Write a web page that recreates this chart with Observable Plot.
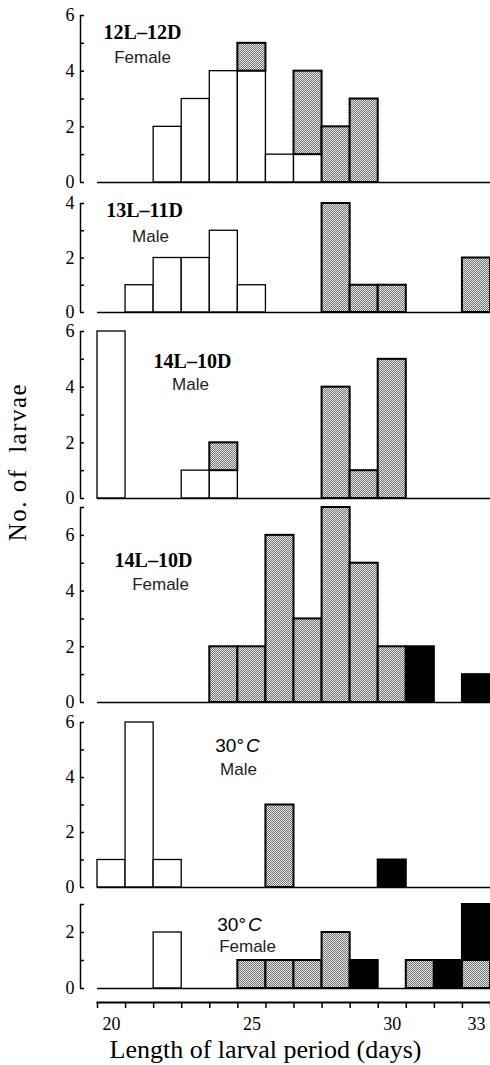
<!DOCTYPE html>
<html>
<head>
<meta charset="utf-8">
<script src="https://cdn.jsdelivr.net/npm/d3@7"></script>
<script src="https://cdn.jsdelivr.net/npm/@observablehq/plot@0.6"></script>
<style>
  body { margin: 0; background: #fff; }
  #chart { position: relative; width: 490px; height: 1065px; overflow: hidden; background: #fff; }
  #chart svg.panel { position: absolute; left: 0; }
  #ylabel {
    position: absolute; left: 17px; top: 462px;
    transform: translate(-50%, -50%) rotate(-90deg);
    white-space: pre; font-family: 'Liberation Serif', serif; font-size: 25px;
    letter-spacing: 1.5px; line-height: 1; color: #000;
  }
</style>
</head>
<body>
<div id="chart"></div>
<script>
// ---------- data ----------
const days = [20, 21, 22, 23, 24, 25, 26, 27, 28, 29, 30, 31, 32, 33];
const types = ["open", "stippled", "solid"];
const panelTitles = ["12L–12D", "13L–11D", "14L–10D", "14L–10D", "30°C", "30°C"];
const panelSexes = ["Female", "Male", "Male", "Female", "Male", "Female"];
const panelYMax = [6, 4, 6, 7, 6, 3];

// counts per day (days 20..33)
const p1Open     = [0, 0, 2, 3, 4, 4, 1, 1, 0, 0, 0, 0, 0, 0];
const p1Stippled = [0, 0, 0, 0, 0, 1, 0, 3, 2, 3, 0, 0, 0, 0];
const p1Solid    = [0, 0, 0, 0, 0, 0, 0, 0, 0, 0, 0, 0, 0, 0];

const p2Open     = [0, 1, 2, 2, 3, 1, 0, 0, 0, 0, 0, 0, 0, 0];
const p2Stippled = [0, 0, 0, 0, 0, 0, 0, 0, 4, 1, 1, 0, 0, 2];
const p2Solid    = [0, 0, 0, 0, 0, 0, 0, 0, 0, 0, 0, 0, 0, 0];

const p3Open     = [6, 0, 0, 1, 1, 0, 0, 0, 0, 0, 0, 0, 0, 0];
const p3Stippled = [0, 0, 0, 0, 1, 0, 0, 0, 4, 1, 5, 0, 0, 0];
const p3Solid    = [0, 0, 0, 0, 0, 0, 0, 0, 0, 0, 0, 0, 0, 0];

const p4Open     = [0, 0, 0, 0, 0, 0, 0, 0, 0, 0, 0, 0, 0, 0];
const p4Stippled = [0, 0, 0, 0, 2, 2, 6, 3, 7, 5, 2, 0, 0, 0];
const p4Solid    = [0, 0, 0, 0, 0, 0, 0, 0, 0, 0, 0, 2, 0, 1];

const p5Open     = [1, 6, 1, 0, 0, 0, 0, 0, 0, 0, 0, 0, 0, 0];
const p5Stippled = [0, 0, 0, 0, 0, 0, 3, 0, 0, 0, 0, 0, 0, 0];
const p5Solid    = [0, 0, 0, 0, 0, 0, 0, 0, 0, 0, 1, 0, 0, 0];

const p6Open     = [0, 0, 2, 0, 0, 0, 0, 0, 0, 0, 0, 0, 0, 0];
const p6Stippled = [0, 0, 0, 0, 0, 1, 1, 1, 2, 0, 0, 1, 0, 1];
const p6Solid    = [0, 0, 0, 0, 0, 0, 0, 0, 0, 1, 0, 0, 1, 2];

const xTickLabels = [20, 25, 30, 33];
const xLabel = "Length of larval period (days)";
const yLabel = "No. of  larvae";

const series = [
  [p1Open, p1Stippled, p1Solid],
  [p2Open, p2Stippled, p2Solid],
  [p3Open, p3Stippled, p3Solid],
  [p4Open, p4Stippled, p4Solid],
  [p5Open, p5Stippled, p5Solid],
  [p6Open, p6Stippled, p6Solid]
];

// ---------- layout (pixels) ----------
const layout = [
  {plotTop: 15,  base: 182, title: [45, 17],  sub: [45, 42]},
  {plotTop: 203, base: 312, title: [47, 7],   sub: [53, 33]},
  {plotTop: 331, base: 498, title: [95, 30],  sub: [93, 53]},
  {plotTop: 507, base: 702, title: [56, 53],  sub: [63, 77]},
  {plotTop: 722, base: 887, title: [140, 23], sub: [141, 47]},
  {plotTop: 904, base: 988, title: [142, 20], sub: [150, 42]}
];
const MT = 10, MB = 6;
const xDomain = [days[0] - 0.5, days[days.length - 1] + 0.5];
const binEdges = days.map(d => d - 0.5).concat([days[days.length - 1] + 0.5]);

const chart = document.getElementById("chart");

// stipple pattern
const defsSvg = d3.select(chart).append("svg")
  .attr("width", 0).attr("height", 0)
  .style("position", "absolute").style("left", 0).style("top", 0);
const pat = defsSvg.append("defs").append("pattern")
  .attr("id", "stipple").attr("patternUnits", "userSpaceOnUse")
  .attr("width", 2).attr("height", 2);
pat.append("rect").attr("width", 2).attr("height", 2).attr("fill", "#e6e6e6");
pat.append("rect").attr("width", 1).attr("height", 1).attr("fill", "#747474");
pat.append("rect").attr("x", 1).attr("y", 1).attr("width", 1).attr("height", 1).attr("fill", "#747474");

const baseStyle = {
  background: "transparent", overflow: "visible", color: "black",
  fontFamily: "'Liberation Serif', serif", fontSize: "18px"
};

function italicizeC(svg) {
  d3.select(svg).selectAll("text").each(function () {
    if (this.textContent === "30°C") {
      this.textContent = "30°";
      d3.select(this).append("tspan").attr("font-style", "italic").attr("dx", 2).text("C");
    }
  });
}

series.forEach((s, i) => {
  const L = layout[i];
  const ymax = panelYMax[i];
  const rows = [];
  s.forEach((counts, t) => counts.forEach((c, j) => {
    if (c > 0) rows.push({day: days[j], type: types[t], count: c});
  }));
  const h = L.base - L.plotTop + MT + MB;
  const svg = Plot.plot({
    width: 490, height: h,
    marginLeft: 97, marginRight: 0, marginTop: MT, marginBottom: MB,
    x: {domain: xDomain, axis: null},
    y: {domain: [0, ymax], axis: null, label: null},
    color: {type: "ordinal", domain: types, range: ["white", "url(#stipple)", "black"]},
    style: baseStyle,
    marks: [
      Plot.rectY(rows, {
        x1: d => d.day - 0.5, x2: d => d.day + 0.5, y: "count",
        fill: "type", stroke: "black",
        strokeWidth: d => d.type === "open" ? 1.3 : 2
      }),
      Plot.ruleY([0], {strokeWidth: 1.6}),
      Plot.ruleX([xDomain[0]], {y1: 0, y2: ymax, dx: -17, strokeWidth: 1.5}),
      Plot.axisY({
        ticks: d3.range(0, ymax + 1), tickSize: 4, tickPadding: 6, dx: -13,
        tickFormat: d => d % 2 ? "" : d, strokeWidth: 1.5, label: null,
        ariaLabel: "yaxis"
      }),
      Plot.text([panelTitles[i]], {
        text: d => d, frameAnchor: "top-left", dx: L.title[0], dy: L.title[1],
        textAnchor: "middle", lineAnchor: "middle",
        fontFamily: i >= 4 ? "'Liberation Sans', sans-serif" : "'Liberation Serif', serif",
        fontWeight: i >= 4 ? "normal" : "bold", fontSize: i >= 4 ? 19 : 20,
        ariaLabel: "panel-title"
      }),
      Plot.text([panelSexes[i]], {
        text: d => d, frameAnchor: "top-left", dx: L.sub[0], dy: L.sub[1],
        textAnchor: "middle", lineAnchor: "middle",
        fontFamily: "'Liberation Sans', sans-serif", fontSize: 17, fill: "#222",
        ariaLabel: "panel-sex"
      })
    ]
  });
  svg.classList.add("panel");
  svg.style.top = (L.plotTop - MT) + "px";
  const sel = d3.select(svg);
  sel.selectAll("text").each(function () {
    const g = this.closest("g");
    const lab = g ? g.getAttribute("aria-label") || "" : "";
    if (lab.includes("tick label")) {
      d3.select(this).style("font-size", "18px").style("font-family", "'Liberation Serif', serif");
    }
  });
  sel.selectAll('g[aria-label="panel-title"] text').style("letter-spacing", i >= 4 ? "0.5px" : "2px");
  sel.selectAll('g[aria-label="panel-sex"] text').style("letter-spacing", "0.8px");
  italicizeC(svg);
  chart.appendChild(svg);
});

// bottom x axis
const axisTop = 990, axisLine = 1002;
const axisSvg = Plot.plot({
  width: 490, height: 1065 - axisTop,
  marginLeft: 97, marginRight: 0, marginTop: 0, marginBottom: (1065 - axisTop) - (axisLine - axisTop),
  x: {domain: xDomain, axis: null, label: null},
  style: baseStyle,
  marks: [
    Plot.frame({anchor: "bottom", strokeWidth: 2}),
    Plot.axisX({anchor: "bottom", ticks: binEdges, tickSize: 6, tickFormat: () => "", strokeWidth: 1.5, label: null}),
    Plot.axisX({anchor: "bottom", ticks: xTickLabels, tickSize: 0, tickPadding: 15, fontSize: 18,
      fontFamily: "'Liberation Serif', serif", label: null}),
    Plot.text([xLabel], {
      text: d => d, frameAnchor: "bottom-left", dx: 168, dy: 47,
      textAnchor: "middle", lineAnchor: "middle", fontSize: 26
    })
  ]
});
axisSvg.classList.add("panel");
axisSvg.style.top = axisTop + "px";
chart.appendChild(axisSvg);

// y label
const yl = document.createElement("div");
yl.id = "ylabel";
yl.textContent = yLabel;
chart.appendChild(yl);
</script>
</body>
</html>
